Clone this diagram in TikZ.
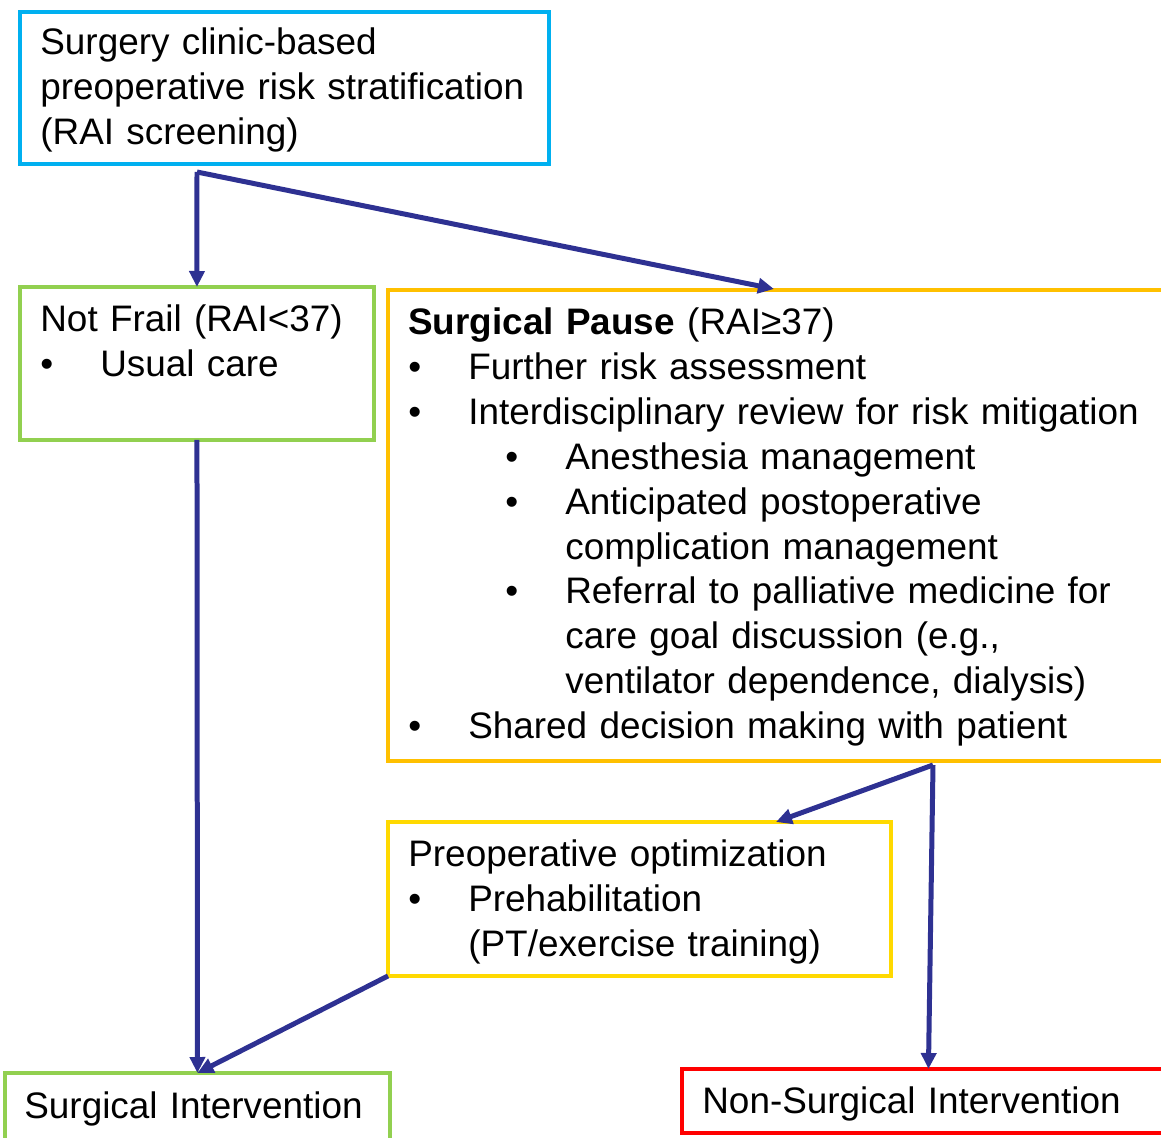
\documentclass[tikz,border=0pt]{standalone}
\usepackage{fontspec}
\setmainfont{Liberation Sans}
\usepackage{xcolor}
\usetikzlibrary{arrows.meta}
\definecolor{cblue}{RGB}{0,176,240}
\definecolor{cgreen}{RGB}{146,208,80}
\definecolor{corange}{RGB}{255,192,0}
\definecolor{cyellow}{RGB}{255,217,0}
\definecolor{cred}{RGB}{255,0,0}
\definecolor{carrow}{RGB}{46,49,146}
\newcommand{\bulA}{\makebox[1.2cm][l]{\textbullet}}
\newcommand{\bulB}{\hspace*{1.94cm}\makebox[1.2cm][l]{\textbullet}}
\newcommand{\indA}{\hspace*{1.2cm}}
\newcommand{\indB}{\hspace*{3.14cm}}

\begin{document}
\begin{tikzpicture}[x=0.02cm,y=-0.02cm,
	box/.style={draw=#1,line width=0.085cm,anchor=north west,inner sep=0pt,outer sep=0pt},
	txt/.style={anchor=base west,inner sep=0pt,text width=16cm,align=left,font=\fontsize{21}{25.5}\selectfont},
	flow/.style={-{Triangle[length=0.32cm,width=0.3cm]},draw=carrow,line width=0.1cm}]
	\path[use as bounding box,clip](0,0)rectangle(1161,1138);
	% boxes
	\node(screen)at(20,12)[box=cblue,minimum width=10.58cm,minimum height=3.04cm]{};
	\node(notfrail)at(20,287)[box=cgreen,minimum width=7.08cm,minimum height=3.06cm]{};
	\node(pause)at(388,290)[box=corange,minimum width=15.74cm,minimum height=9.42cm]{};
	\node(optim)at(388,822)[box=cyellow,minimum width=10.06cm,minimum height=3.08cm]{};
	\node(surg)at(5,1073)[box=cgreen,minimum width=7.7cm,minimum height=1.54cm]{};
	\node(nonsurg)at(682,1069)[box=cred,minimum width=9.86cm,minimum height=1.28cm]{};
	% texts
	\node(screentxt)at(40,55)[txt]{Surgery clinic-based\\preoperative risk stratification\\(RAI screening)};
	\node(notfrailtxt)at(40,332)[txt]{Not Frail (RAI<37)\\\bulA Usual care};
	\node(pausetxt)at(408,335)[txt]{\textbf{Surgical Pause} (RAI≥37)\\
		\bulA Further risk assessment\\
		\bulA Interdisciplinary review for risk mitigation\\
		\bulB Anesthesia management\\
		\bulB Anticipated postoperative\\
		\indB complication management\\
		\bulB Referral to palliative medicine for\\
		\indB care goal discussion (e.g.,\\
		\indB ventilator dependence, dialysis)\\
		\bulA Shared decision making with patient};
	\node(optimtxt)at(408,867)[txt]{Preoperative optimization\\\bulA Prehabilitation\\\indA (PT/exercise training)};
	\node(surgtxt)at(24,1118)[txt]{Surgical Intervention};
	\node(nonsurgtxt)at(702,1113)[txt]{Non-Surgical Intervention};
	% connectors
	\coordinate(split1)at(197,172);
	\coordinate(split2)at(933,765);
	\coordinate(pausein)at(774,289);
	\draw[flow](split1)--(notfrail.north);
	\draw[flow](split1)--(pausein);
	\draw[flow](notfrail.south)--(surg.north);
	\draw[flow](split2)--(optim.north-|776,0);
	\draw[flow](split2)--(nonsurg.north);
	\draw[flow](optim.south west)--(surg.north);
\end{tikzpicture}
\end{document}
